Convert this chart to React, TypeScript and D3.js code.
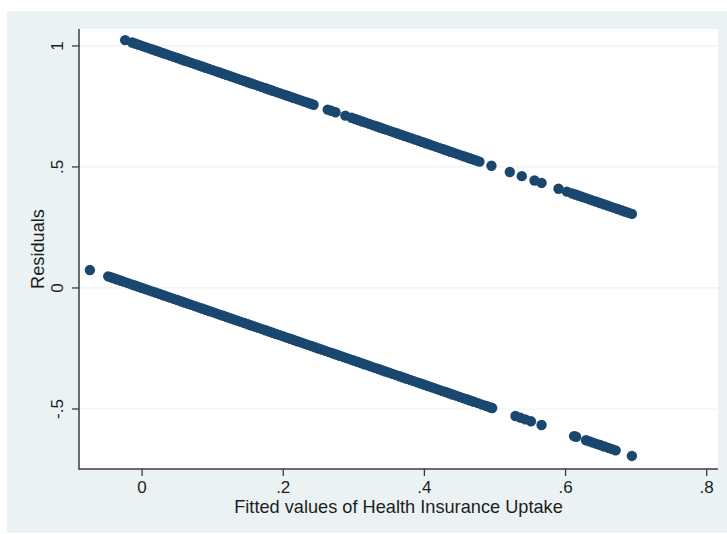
import React from 'react'
import * as d3 from 'd3'

// fitted values for observations whose outcome is 1 (upper band of residuals)
const fittedUptake1 = [
  -0.024,
  -0.014, -0.01, -0.005, 0.0, 0.005, 0.01, 0.015, 0.02, 0.025, 0.03, 0.035, 0.04,
  0.045, 0.05, 0.055, 0.06, 0.065, 0.07, 0.075, 0.08, 0.085, 0.09, 0.095, 0.1,
  0.105, 0.11, 0.115, 0.12, 0.125, 0.13, 0.135, 0.14, 0.145, 0.15, 0.155, 0.16,
  0.165, 0.17, 0.175, 0.18, 0.185, 0.19, 0.195, 0.2, 0.205, 0.21, 0.215, 0.22,
  0.225, 0.23, 0.235, 0.239, 0.243,
  0.263, 0.268, 0.274, 0.288, 0.297,
  0.302, 0.307, 0.312, 0.317, 0.322, 0.327, 0.332, 0.337, 0.342, 0.347, 0.352,
  0.357, 0.362, 0.367, 0.372, 0.377, 0.382, 0.387, 0.392, 0.397, 0.402, 0.407,
  0.412, 0.417, 0.422, 0.427, 0.432, 0.437, 0.442, 0.447, 0.452, 0.457, 0.462,
  0.466, 0.47, 0.474, 0.478,
  0.495, 0.521, 0.538, 0.556, 0.566, 0.59, 0.602,
  0.609, 0.614, 0.619, 0.624, 0.629, 0.634, 0.639, 0.644, 0.649, 0.654, 0.659,
  0.664, 0.669, 0.674, 0.679, 0.684, 0.689, 0.694
]

// fitted values for observations whose outcome is 0 (lower band of residuals)
const fittedUptake0 = [
  -0.074,
  -0.048, -0.044, -0.04, -0.035, -0.03, -0.025, -0.02, -0.015, -0.01, -0.005,
  0.0, 0.005, 0.01, 0.015, 0.02, 0.025, 0.03, 0.035, 0.04, 0.045, 0.05, 0.055,
  0.06, 0.065, 0.07, 0.075, 0.08, 0.085, 0.09, 0.095, 0.1, 0.105, 0.11, 0.115,
  0.12, 0.125, 0.13, 0.135, 0.14, 0.145, 0.15, 0.155, 0.16, 0.165, 0.17, 0.175,
  0.18, 0.185, 0.19, 0.195, 0.2, 0.205, 0.21, 0.215, 0.22, 0.225, 0.23, 0.235,
  0.24, 0.245, 0.25, 0.255, 0.26, 0.265, 0.27, 0.275, 0.28, 0.285, 0.29, 0.295,
  0.3, 0.305, 0.31, 0.315, 0.32, 0.325, 0.33, 0.335, 0.34, 0.345, 0.35, 0.355,
  0.36, 0.365, 0.37, 0.375, 0.38, 0.385, 0.39, 0.395, 0.4, 0.405, 0.41, 0.415,
  0.42, 0.425, 0.43, 0.435, 0.44, 0.445, 0.45, 0.455, 0.46, 0.465, 0.47, 0.476,
  0.482, 0.488, 0.493, 0.496,
  0.529, 0.536, 0.543, 0.551, 0.566,
  0.612, 0.615, 0.629, 0.634, 0.639, 0.644, 0.649, 0.655, 0.661, 0.666, 0.671,
  0.694
]

const xTicks = [0, 0.2, 0.4, 0.6, 0.8]
const xTickLabels = ['0', '.2', '.4', '.6', '.8']
const yTicks = [1, 0.5, 0, -0.5]
const yTickLabels = ['1', '.5', '0', '-.5']

const W = 727
const H = 534
const plot = { left: 79, right: 718, top: 29, bottom: 469 }
const font = '"Liberation Sans", Arial, sans-serif'
const navy = '#1a476f'
const bg = '#eaf2f3'

const App = () => {
  const x = d3.scaleLinear().domain([-0.0894, 0.816]).range([plot.left, plot.right])
  const y = d3.scaleLinear().domain([-0.748, 1.07]).range([plot.bottom, plot.top])

  // residual = observed outcome - fitted value
  const points = [
    ...fittedUptake1.map(f => ({ fitted: f, resid: 1 - f })),
    ...fittedUptake0.map(f => ({ fitted: f, resid: 0 - f }))
  ]

  return (
    <div style={{ position: 'absolute', left: 0, top: 0 }}>
      <svg width={W} height={H} style={{ display: 'block' }}>
        <rect x={0} y={0} width={W} height={H} fill="#ffffff" />
        <rect x={7} y={11} width={W - 7} height={H - 12} fill={bg} />
        <rect x={plot.left} y={plot.top} width={plot.right - plot.left} height={plot.bottom - plot.top} fill="#ffffff" />

        {/* grid */}
        {yTicks.map(t => (
          <line key={'g' + t} x1={plot.left} x2={plot.right} y1={y(t)} y2={y(t)} stroke={bg} strokeWidth={1.2} />
        ))}

        {/* points */}
        {points.map((p, i) => (
          <circle key={i} cx={x(p.fitted)} cy={y(p.resid)} r={5.2} fill={navy} />
        ))}

        {/* axes */}
        <line x1={plot.left} x2={plot.left} y1={plot.top} y2={plot.bottom + 0.5} stroke="#3c3c3c" strokeWidth={1.5} />
        <line x1={plot.left - 0.5} x2={plot.right} y1={plot.bottom} y2={plot.bottom} stroke="#3c3c3c" strokeWidth={1.5} />

        {yTicks.map((t, i) => (
          <g key={'y' + t}>
            <line x1={plot.left - 7} x2={plot.left} y1={y(t)} y2={y(t)} stroke="#3c3c3c" strokeWidth={1.3} />
            <text
              transform={`translate(63,${y(t)}) rotate(-90)`}
              textAnchor="middle"
              fontFamily={font}
              fontSize={17}
              fill="#1e1e1e"
            >
              {yTickLabels[i]}
            </text>
          </g>
        ))}

        {xTicks.map((t, i) => (
          <g key={'x' + t}>
            <line x1={x(t)} x2={x(t)} y1={plot.bottom} y2={plot.bottom + 7} stroke="#3c3c3c" strokeWidth={1.3} />
            <text x={x(t)} y={493} textAnchor="middle" fontFamily={font} fontSize={17} fill="#1e1e1e">
              {xTickLabels[i]}
            </text>
          </g>
        ))}

        <text
          x={(plot.left + plot.right) / 2}
          y={513}
          textAnchor="middle"
          fontFamily={font}
          fontSize={18.2}
          fill="#1e1e1e"
        >
          Fitted values of Health Insurance Uptake
        </text>
        <text
          transform={`translate(44,${(plot.top + plot.bottom) / 2}) rotate(-90)`}
          textAnchor="middle"
          fontFamily={font}
          fontSize={18.2}
          fill="#1e1e1e"
        >
          Residuals
        </text>
      </svg>
    </div>
  )
}

export default App
